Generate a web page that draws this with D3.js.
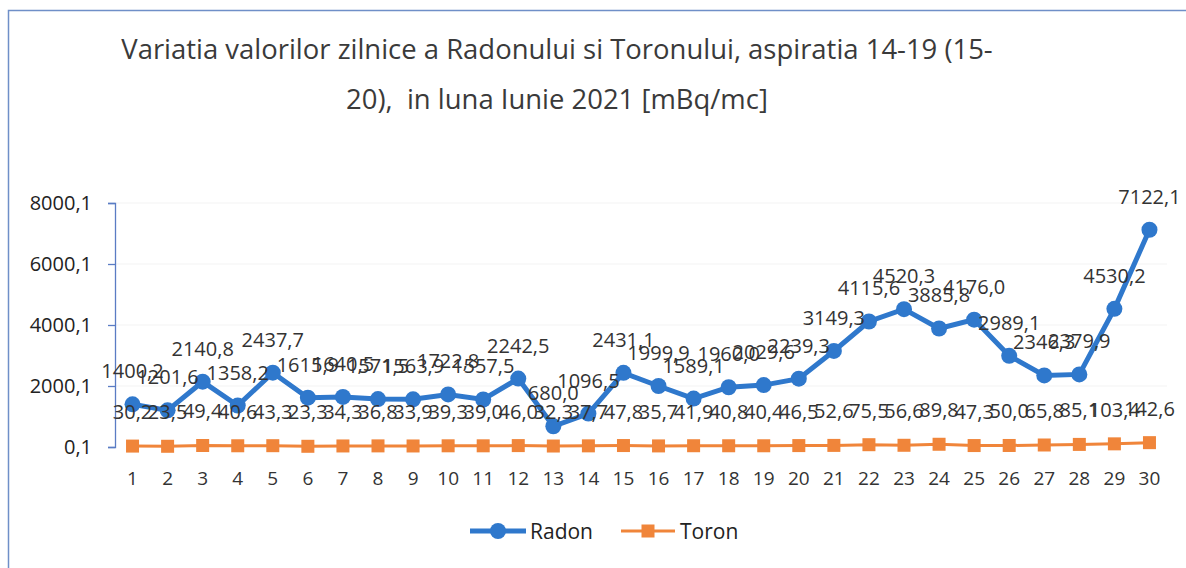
<!DOCTYPE html>
<html>
<head>
<meta charset="utf-8">
<script src="https://cdn.jsdelivr.net/npm/d3@7"></script>
<style>
  body { margin: 0; background: #fff; }
  svg { display: block; font-family: "Open Sans", "Noto Sans", sans-serif; }
</style>
</head>
<body>
<svg width="1186" height="568"></svg>
<script>
// data
var days = d3.range(1, 31);
var radon = [1400.2, 1201.6, 2140.8, 1358.2, 2437.7, 1615.9, 1640.5, 1571.5, 1563.9, 1722.8,
  1557.5, 2242.5, 680.0, 1096.5, 2431.1, 1999.9, 1589.1, 1960.0, 2029.6, 2239.3,
  3149.3, 4115.6, 4520.3, 3885.8, 4176.0, 2989.1, 2346.3, 2379.9, 4530.2, 7122.1];
var toron = [30.2, 23.5, 49.4, 40.6, 43.3, 23.3, 34.3, 36.8, 33.9, 39.3,
  39.0, 46.0, 32.3, 37.7, 47.8, 35.7, 41.9, 40.8, 40.4, 46.5,
  52.6, 75.5, 56.6, 89.8, 47.3, 50.0, 65.8, 85.1, 103.4, 142.6];
var yTicks = [0.1, 2000.1, 4000.1, 6000.1, 8000.1];
var titleLines = ["Variatia valorilor zilnice a Radonului si Toronului, aspiratia 14-19 (15-",
  "20),  in luna Iunie 2021 [mBq/mc]"];

var blue = "#2f78cc", orange = "#f0853a", textCol = "#333";

var svg = d3.select("svg");

// chart frame (left + top visible)
svg.append("path")
  .attr("d", "M8.5,568 V10.5 H1186")
  .attr("fill", "none")
  .attr("stroke", "#6f8fc8")
  .attr("stroke-width", 1.5);

// title
var title = svg.append("g").attr("fill", "#3a3a3a");
title.selectAll("text")
  .data(titleLines)
  .enter()
  .append("text")
  .attr("x", 557)
  .attr("y", function (d, i) { return 59 + i * 50; })
  .attr("text-anchor", "middle")
  .style("white-space", "pre")
  .style("font-size", "26px")
  .text(function (d) { return d; });
// fit first line to the width seen in the reference
var w0 = title.select("text").node().getComputedTextLength();
title.selectAll("text").style("font-size", (26 * 872 / w0) + "px");

var x = d3.scaleBand().domain(days).range([115, 1167]);
var y = d3.scaleLinear().domain([0.1, 8000.1]).range([447, 203]);
var fmt = function (v) { return d3.format(".1f")(v).replace(".", ","); };
var cx = function (d, i) { return x(days[i]) + x.bandwidth() / 2; };

// faint gridlines
svg.append("g")
  .selectAll("line")
  .data(yTicks.slice(1))
  .enter()
  .append("line")
  .attr("x1", 115).attr("x2", 1167)
  .attr("y1", function (d) { return y(d); })
  .attr("y2", function (d) { return y(d); })
  .attr("stroke", "#f3f3f3");

// y axis
var yAxis = svg.append("g")
  .attr("transform", "translate(115,0)")
  .call(d3.axisLeft(y).tickValues(yTicks).tickFormat(fmt).tickSize(7).tickPadding(16));
yAxis.select(".domain").attr("stroke", "#5a7cc4").attr("stroke-width", 1.3);
yAxis.selectAll(".tick line").attr("stroke", "#5a7cc4").attr("stroke-width", 1.3);
yAxis.selectAll("text").style("font-size", "20px").attr("fill", "#222").style("font-family", "'Open Sans', sans-serif");

// x labels
svg.append("g")
  .selectAll("text")
  .data(days)
  .enter()
  .append("text")
  .attr("x", function (d) { return x(d) + x.bandwidth() / 2; })
  .attr("y", 485)
  .attr("text-anchor", "middle")
  .attr("fill", textCol)
  .style("font-size", "19px")
  .text(function (d) { return d; });

var line = d3.line().x(cx).y(function (d) { return y(d); });

// toron series
svg.append("path")
  .datum(toron)
  .attr("d", line)
  .attr("fill", "none")
  .attr("stroke", orange)
  .attr("stroke-width", 3);
svg.append("g")
  .selectAll("rect")
  .data(toron)
  .enter()
  .append("rect")
  .attr("x", function (d, i) { return cx(d, i) - 6.5; })
  .attr("y", function (d) { return y(d) - 6.5; })
  .attr("width", 13).attr("height", 13)
  .attr("fill", orange);

// radon series
svg.append("path")
  .datum(radon)
  .attr("d", line)
  .attr("fill", "none")
  .attr("stroke", blue)
  .attr("stroke-width", 5);
svg.append("g")
  .selectAll("circle")
  .data(radon)
  .enter()
  .append("circle")
  .attr("cx", cx)
  .attr("cy", function (d) { return y(d); })
  .attr("r", 8)
  .attr("fill", blue);

// data labels
function labels(data, dy) {
  svg.append("g")
    .selectAll("text")
    .data(data)
    .enter()
    .append("text")
    .attr("x", cx)
    .attr("y", function (d) { return y(d) + dy; })
    .attr("text-anchor", "middle")
    .attr("fill", textCol)
    .style("font-size", "20px")
    .text(fmt);
}
labels(radon, -26);
labels(toron, -27);

// legend
var legend = svg.append("g").attr("transform", "translate(0,531)");
legend.append("line").attr("x1", 470).attr("x2", 526).attr("stroke", blue).attr("stroke-width", 5);
legend.append("circle").attr("cx", 498).attr("r", 8).attr("fill", blue);
legend.append("text").attr("x", 530).attr("y", 8).attr("fill", "#222").style("font-size", "21px").text("Radon");
legend.append("line").attr("x1", 621).attr("x2", 675).attr("stroke", orange).attr("stroke-width", 3);
legend.append("rect").attr("x", 641.5).attr("y", -6.5).attr("width", 13).attr("height", 13).attr("fill", orange);
legend.append("text").attr("x", 680).attr("y", 8).attr("fill", "#222").style("font-size", "21px").text("Toron");
</script>
</body>
</html>
